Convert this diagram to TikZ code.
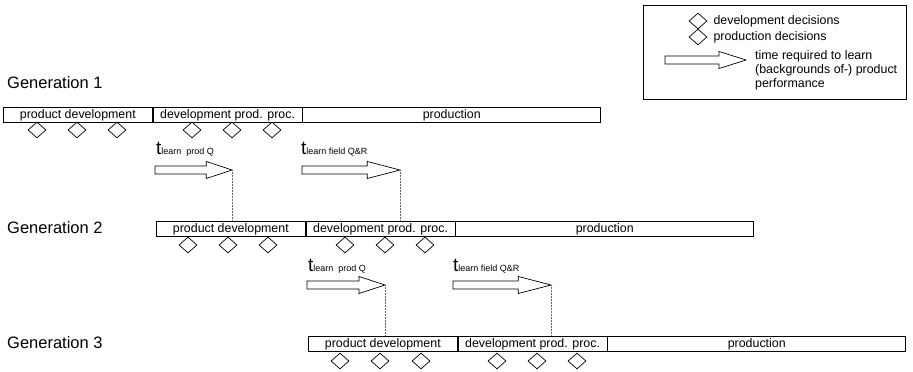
\documentclass[tikz,border=0pt]{standalone}
\usepackage{fontspec}
\setmainfont{Liberation Sans}
\usetikzlibrary{positioning,shapes.geometric}

\begin{document}
\begin{tikzpicture}[x=1pt,y=-1pt,
	phase/.style={
		draw, line width=0.7pt, minimum width=149pt, minimum height=15pt,
		inner sep=0pt, font=\fontsize{12.4}{14}\selectfont
	},
	decision/.style={
		draw, diamond, line width=0.7pt, minimum width=18pt, minimum height=16pt, inner sep=0pt
	},
	learn/.style={draw, fill=white, line width=0.7pt},
	trace/.style={draw=black!60, densely dotted, line width=0.5pt},
	genlabel/.style={anchor=west, inner sep=0pt, font=\fontsize{16.5}{18}\selectfont},
	tlabel/.style={anchor=base west, inner sep=0pt},
	legtext/.style={anchor=west, inner sep=0pt, font=\fontsize{12.4}{14}\selectfont}
	]
	\useasboundingbox (0,0) rectangle (913,372);

	% generation labels
	\node[genlabel] (gen1) at (7,83) {Generation 1};
	\node[genlabel] (gen2) at (7,228) {Generation 2};
	\node[genlabel] (gen3) at (7,343) {Generation 3};

	% phase bars
	\node[phase, anchor=north west] (g1pd) at (3,107) {product development};
	\node[phase, right=0pt of g1pd] (g1dp) {development prod. proc.};
	\node[phase, minimum width=298pt, right=0pt of g1dp] (g1pr) {production};

	\node[phase, anchor=north west] (g2pd) at (156,221) {product development};
	\node[phase, right=0pt of g2pd] (g2dp) {development prod. proc.};
	\node[phase, minimum width=298pt, right=0pt of g2dp] (g2pr) {production};

	\node[phase, anchor=north west] (g3pd) at (308,336) {product development};
	\node[phase, right=0pt of g3pd] (g3dp) {development prod. proc.};
	\node[phase, minimum width=298pt, right=0pt of g3dp] (g3pr) {production};

	% decisions
	\foreach \x in {37,77,117,192,232,272}
	\node[decision] (d1-\x) at (\x,130) {};
	\foreach \x in {188,228,268,345,385,425}
	\node[decision] (d2-\x) at (\x,245) {};
	\foreach \x in {340,380,421,497,537,577}
	\node[decision] (d3-\x) at (\x,361) {};

	% learning time arrows
	\foreach \nm/\ax/\ay/\al in {a11/155/170/77, a12/302/170/98, a21/307/285/78, a22/453/285/98}
	\draw[learn] (\ax,\ay-4) -- ++(2*\al/3,0) -- ++(0,-4.5) -- (\ax+\al,\ay) coordinate (\nm)
		-- (\ax+2*\al/3,\ay+8.5) -- ++(0,-4.5) -- (\ax,\ay+4) -- cycle;

	\node[tlabel] (t11) at (156,154) {\fontsize{19}{20}\selectfont t\fontsize{9}{10}\selectfont learn\ \ prod Q};
	\node[tlabel] (t12) at (301,154) {\fontsize{19}{20}\selectfont t\fontsize{9}{10}\selectfont learn field Q\&R};
	\node[tlabel] (t21) at (308,271) {\fontsize{19}{20}\selectfont t\fontsize{9}{10}\selectfont learn\ \ prod Q};
	\node[tlabel] (t22) at (453,271) {\fontsize{19}{20}\selectfont t\fontsize{9}{10}\selectfont learn field Q\&R};

	\draw[trace] (a11) -- (a11 |- g2pd.north);
	\draw[trace] (a12) -- (a12 |- g2dp.north);
	\draw[trace] (a21) -- (a21 |- g3pd.north);
	\draw[trace] (a22) -- (a22 |- g3dp.north);

	% legend
	\draw[line width=0.6pt] (643,5) rectangle (906,99);
	\node[decision] (ld1) at (698,21) {};
	\node[decision] (ld2) at (698,37) {};
	\node[legtext, right=6pt of ld1] (lt1) {development decisions};
	\node[legtext, right=6pt of ld2] (lt2) {production decisions};
	\draw[learn] (665,56) -- (719,56) -- (719,51.5) -- (746,60) coordinate (la)
		-- (719,68.5) -- (719,64) -- (665,64) -- cycle;
	\node[legtext, align=left, font=\fontsize{12.4}{14}\selectfont] (lt3) at (755,70)
		{time required to learn\\(backgrounds of-) product\\performance};
\end{tikzpicture}
\end{document}
